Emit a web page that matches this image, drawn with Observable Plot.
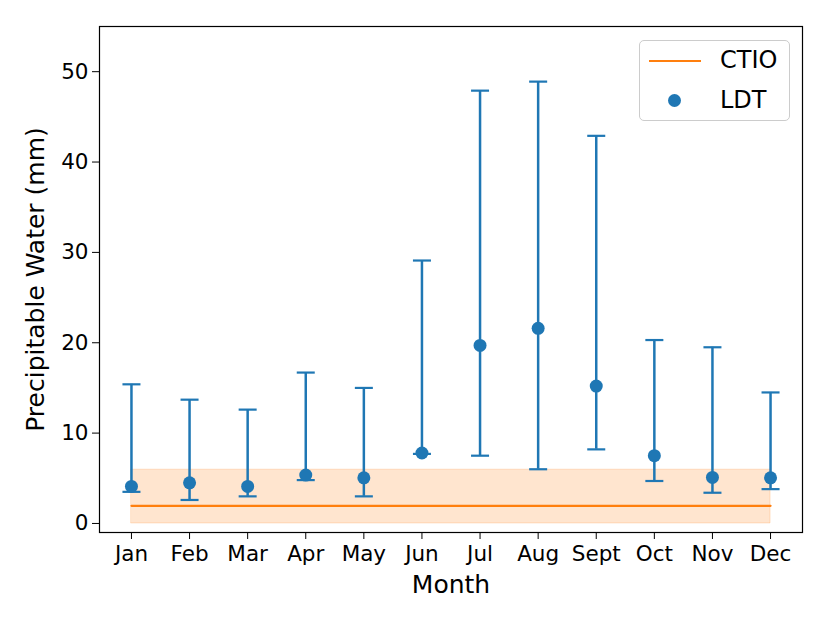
<!DOCTYPE html>
<html>
<head>
<meta charset="utf-8">
<script src="https://cdn.jsdelivr.net/npm/d3@7"></script>
<script src="https://cdn.jsdelivr.net/npm/@observablehq/plot@0.6"></script>
<style>
  body { margin: 0; background: white; font-family: "DejaVu Sans", sans-serif; }
  #wrap { position: relative; width: 830px; height: 623px; }
  .legend { position: absolute; left: 639px; top: 40px; width: 151px; height: 81px;
    border: 1px solid #cccccc; border-radius: 5px; background: rgba(255,255,255,0.8);
    box-sizing: border-box; font-size: 24px; color: black; }
  .item { position: absolute; line-height: 1; }
  .swline { position: absolute; left: 9px; top: 19px; width: 52px; height: 0; border-top: 2.2px solid #ff7f0e; }
  .swdot { position: absolute; left: 28px; top: 53px; width: 13px; height: 13px; border-radius: 50%; background: #1f77b4; }
</style>
</head>
<body>
<div id="wrap"></div>
<script>
const months = ["Jan","Feb","Mar","Apr","May","Jun","Jul","Aug","Sept","Oct","Nov","Dec"];
const ldtMedian = [4.1, 4.5, 4.1, 5.35, 5.05, 7.8, 19.7, 21.6, 15.2, 7.5, 5.1, 5.05];
const ldtLow    = [3.5, 2.6, 3.0, 4.8, 3.0, 7.7, 7.5, 6.0, 8.2, 4.7, 3.4, 3.8];
const ldtHigh   = [15.4, 13.7, 12.6, 16.7, 15.0, 29.1, 47.9, 48.9, 42.9, 20.3, 19.5, 14.5];
const ctioValue = 1.95;
const ctioLow = 0;
const ctioHigh = 5.95;
const yTicks = [0, 10, 20, 30, 40, 50];

const ldt = months.map((m, i) => ({i, m, v: ldtMedian[i], lo: ldtLow[i], hi: ldtHigh[i]}));
const ctio = [0, months.length - 1].map(i => ({i, v: ctioValue, lo: ctioLow, hi: ctioHigh}));

const blue = "#1f77b4", orange = "#ff7f0e";
const capHalf = 0.155;

const chart = Plot.plot({
  width: 830,
  height: 623,
  marginLeft: 99,
  marginRight: 28,
  marginTop: 26,
  marginBottom: 91,
  style: {fontFamily: "DejaVu Sans", fontSize: "21.5px", color: "black", background: "white"},
  x: {type: "linear", domain: [-0.55, 11.55]},
  y: {domain: [-1, 55]},
  marks: [
    Plot.areaY(ctio, {x: "i", y1: "lo", y2: "hi", fill: orange, fillOpacity: 0.2, stroke: orange, strokeOpacity: 0.2}),
    Plot.lineY(ctio, {x: "i", y: "v", stroke: orange, strokeWidth: 2.2}),
    Plot.ruleX(ldt, {x: "i", y1: "lo", y2: "hi", stroke: blue, strokeWidth: 2.5}),
    Plot.link(ldt, {x1: d => d.i - capHalf, x2: d => d.i + capHalf, y1: "lo", y2: "lo", stroke: blue, strokeWidth: 2.2}),
    Plot.link(ldt, {x1: d => d.i - capHalf, x2: d => d.i + capHalf, y1: "hi", y2: "hi", stroke: blue, strokeWidth: 2.2}),
    Plot.dot(ldt, {x: "i", y: "v", r: 6.5, fill: blue}),
    Plot.axisX({ticks: d3.range(months.length), tickFormat: i => months[i], tickSize: 7, tickPadding: 6,
      label: "Month", labelAnchor: "center", labelArrow: "none", labelOffset: 60, fontSize: 21.5}),
    Plot.axisY({ticks: yTicks, tickSize: 7, tickPadding: 4,
      label: "Precipitable Water (mm)", labelAnchor: "center", labelArrow: "none", labelOffset: 73, fontSize: 21.5}),
    Plot.frame({stroke: "black", strokeWidth: 1.2})
  ]
});
const wrap = document.getElementById("wrap");
wrap.appendChild(chart);
chart.querySelectorAll("g[aria-label='x-axis label'] text, g[aria-label='y-axis label'] text").forEach(t => t.setAttribute("font-size", "25px"));

const legend = document.createElement("div");
legend.className = "legend";
legend.innerHTML = `
  <div class="swline"></div><div class="item" style="left:80px;top:7px">CTIO</div>
  <div class="swdot"></div><div class="item" style="left:80px;top:47px">LDT</div>`;
wrap.appendChild(legend);
</script>
</body>
</html>
